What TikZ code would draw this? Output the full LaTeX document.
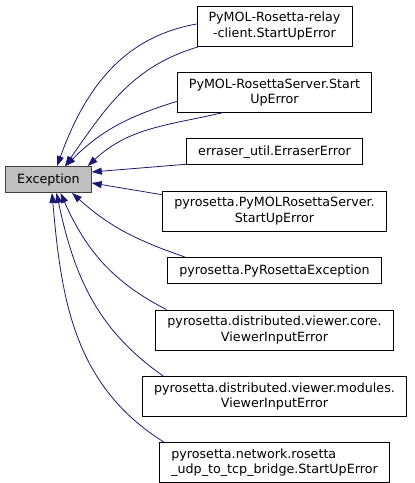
\documentclass[tikz,border=0pt]{standalone}
\usepackage{fontspec}
\setmainfont{DejaVu Sans}
\usetikzlibrary{positioning,arrows.meta}
\definecolor{edgeblue}{HTML}{191970}
\definecolor{basegray}{HTML}{BFBFBF}
\definecolor{framegray}{HTML}{404040}

\begin{document}
\begin{tikzpicture}[x=1pt, y=-1pt, >={Triangle[length=10pt,width=7pt]}, node distance=25.5pt,
  cls/.style={draw=black, line width=0.9pt, align=center, inner xsep=11.5pt, inner ysep=3pt,
    minimum height=26pt, font=\fontsize{12.7}{15.5}\selectfont},
  cls2/.style={cls, minimum height=40pt},
  base/.style={cls, fill=basegray, draw=framegray},
  inherit/.style={draw=edgeblue, line width=0.8pt, ->}]
\useasboundingbox (0,0) rectangle (415,483);
% Vertices of graph
\node [base] (exc) at (48.5,179.5) {Exception};
\node [cls2] (c1) at (274.5,26) {PyMOL-Rosetta-relay\\-client.StartUpError};
\node [cls2] (c2) [below=of c1] {PyMOL-RosettaServer.Start\\UpError};
\node [cls] (c3) [below=of c2] {erraser\_util.ErraserError};
\node [cls2] (c4) [below=of c3] {pyrosetta.PyMOLRosettaServer.\\StartUpError};
\node [cls] (c5) [below=of c4] {pyrosetta.PyRosettaException};
\node [cls2] (c6) [below=of c5] {pyrosetta.distributed.viewer.core.\\ViewerInputError};
\node [cls2] (c7) [below=of c6] {pyrosetta.distributed.viewer.modules.\\ViewerInputError};
\node [cls2, align=left] (c8) [below=of c7] {pyrosetta.network.rosetta\\\_udp\_to\_tcp\_bridge.StartUpError};
% edges of graph
\path[every edge/.append style={inherit}]
([yshift=2pt]c1.west) edge[out=190, in=70] ([xshift=8.5pt]exc.north)
([xshift=3pt]c1.south west) edge[out=196, in=55] ([xshift=16.5pt]exc.north)
([yshift=-9pt]c2.west) edge[out=197, in=45] ([xshift=17pt]exc.north)
([xshift=45pt]c2.south west) edge[out=193, in=43] ([xshift=-4pt]exc.north east)
([yshift=1pt]c3.south west) edge ([yshift=7.5pt]exc.east)
([yshift=-4pt]c4.north west) edge ([yshift=-3.5pt]exc.east)
([xshift=18pt]c5.north west) edge[out=161, in=-42] ([xshift=23.5pt]exc.south)
([xshift=11pt]c6.north west) edge[out=153, in=-66] ([xshift=12pt]exc.south)
([xshift=21pt]c7.north west) edge[out=145, in=-78] ([xshift=8pt]exc.south)
([xshift=5pt]c8.north west) edge[out=148, in=-85] ([xshift=3.5pt]exc.south)
;
\end{tikzpicture}
\end{document}
